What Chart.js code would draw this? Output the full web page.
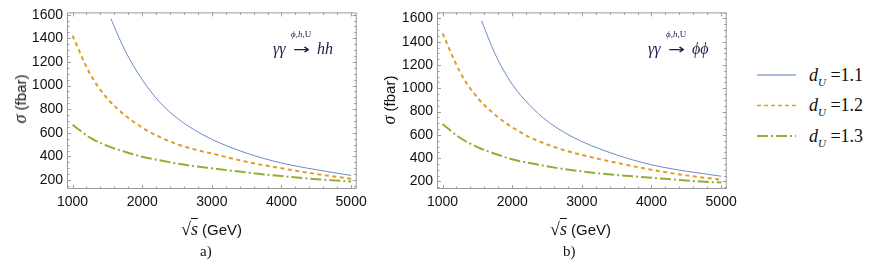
<!DOCTYPE html>
<html>
<head>
<meta charset="utf-8">
<script src="https://cdn.jsdelivr.net/npm/chart.js@4.4.1/dist/chart.umd.min.js"></script>
<style>
  body { margin: 0; background: #fff; width: 882px; height: 264px; overflow: hidden; position: relative; }
  canvas { position: absolute; top: 0; }
  .t { position: absolute; white-space: nowrap; color: #111; line-height: 1; }
  .serif { font-family: "Liberation Serif", "DejaVu Serif", serif; }
  .sans { font-family: "Liberation Sans", Arial, sans-serif; }
  .ytitle { transform: translate(-50%, -50%) rotate(-90deg); }
  .ov { text-decoration: overline; }
  .arrow { font-family: "DejaVu Sans", sans-serif; font-size: 14px; transform: scaleX(1.45); transform-origin: left center; color: #1c1c48; }
</style>
</head>
<body>
<canvas id="chartA" width="372" height="264" style="left:0"></canvas>
<canvas id="chartB" width="372" height="264" style="left:370px"></canvas>

<!-- y titles -->
<div class="t ytitle" style="left:20px;top:99px"><span class="serif" style="font-size:18px;font-style:italic">σ</span><span class="sans" style="font-size:15px"> (fbar)</span></div>
<div class="t ytitle" style="left:389px;top:100px"><span class="serif" style="font-size:18px;font-style:italic">σ</span><span class="sans" style="font-size:15px"> (fbar)</span></div>

<!-- x titles -->
<div class="t" style="left:181px;top:220px"><span class="serif" style="font-size:18px">√</span><span class="serif ov" style="font-size:18px;font-style:italic">s</span><span class="sans" style="font-size:15px"> (GeV)</span></div>
<div class="t serif" style="left:200px;top:244px;font-size:15px">a)</div>
<div class="t" style="left:550px;top:220px"><span class="serif" style="font-size:18px">√</span><span class="serif ov" style="font-size:18px;font-style:italic">s</span><span class="sans" style="font-size:15px"> (GeV)</span></div>
<div class="t serif" style="left:563px;top:244px;font-size:15px">b)</div>

<!-- process labels -->
<div class="t serif" style="left:273px;top:41px;font-size:16px;font-style:italic;color:#1c1c48">γγ</div>
<div class="t arrow" style="left:293px;top:42px">→</div>
<div class="t serif" style="left:317px;top:41px;font-size:16px;font-style:italic;color:#1c1c48">hh</div>
<div class="t serif" style="left:291px;top:30px;font-size:9px;color:#1c1c48"><i>ϕ</i>,<i>h</i>,U</div>

<div class="t serif" style="left:648px;top:41px;font-size:16px;font-style:italic;color:#1c1c48">γγ</div>
<div class="t arrow" style="left:668px;top:42px">→</div>
<div class="t serif" style="left:692px;top:41px;font-size:16px;font-style:italic;color:#1c1c48">ϕϕ</div>
<div class="t serif" style="left:666px;top:30px;font-size:9px;color:#1c1c48"><i>ϕ</i>,<i>h</i>,U</div>

<!-- legend -->
<svg style="position:absolute;left:750px;top:60px" width="60" height="90">
  <line x1="7" y1="15" x2="46" y2="15" stroke="#a9bcdc" stroke-width="2"/>
  <line x1="7" y1="45.5" x2="46" y2="45.5" stroke="#E19C24" stroke-width="1.5" stroke-dasharray="4,3"/>
  <line x1="7" y1="76" x2="46" y2="76" stroke="#8FB032" stroke-width="2" stroke-dasharray="11,3,2,3"/>
</svg>
<div class="t serif" style="left:809px;top:66px;font-size:18px"><i>d</i><sub style="font-size:11px"><i>U</i></sub> =1.1</div>
<div class="t serif" style="left:809px;top:96px;font-size:18px"><i>d</i><sub style="font-size:11px"><i>U</i></sub> =1.2</div>
<div class="t serif" style="left:809px;top:127px;font-size:18px"><i>d</i><sub style="font-size:11px"><i>U</i></sub> =1.3</div>

<script>
// sqrt(s) in GeV
const sqrtS = [1000, 1250, 1500, 1750, 2000, 2250, 2500, 2750, 3000, 3500, 4000, 4500, 5000];
const sqrtSBlueA = [1550, 1750, 2000, 2250, 2500, 2750, 3000, 3500, 4000, 4500, 5000];
const sqrtSBlueB = [1560, 1750, 2000, 2250, 2500, 2750, 3000, 3500, 4000, 4500, 5000];

// a) gamma gamma -> hh, sigma in fbar
const hhDu11 = [1565, 1300, 1050, 860, 725, 625, 545, 428, 345, 288, 240];
const hhDu12 = [1422, 1100, 890, 750, 645, 565, 505, 460, 425, 355, 300, 252, 212];
const hhDu13 = [667, 560, 490, 440, 398, 368, 340, 318, 300, 265, 234, 208, 188];

// b) gamma gamma -> phi phi
const ffDu11 = [1580, 1300, 1035, 855, 720, 620, 543, 428, 343, 288, 245];
const ffDu12 = [1471, 1140, 920, 775, 665, 580, 518, 468, 428, 360, 300, 252, 215];
const ffDu13 = [693, 575, 495, 438, 390, 358, 330, 305, 286, 255, 232, 208, 190];

const xTicks = [1000, 2000, 3000, 4000, 5000];
const yTicks = [200, 400, 600, 800, 1000, 1200, 1400, 1600];

const pts = (xs, ys) => xs.map((x, i) => ({ x: x, y: ys[i] }));

// Mathematica style frame with inward ticks
const frameTicks = {
    id: 'frameTicks',
    afterDraw(chart) {
        const { ctx, chartArea: a, scales } = chart;
        const x = scales.x, y = scales.y;
        ctx.save();
        ctx.strokeStyle = '#9c9c9c';
        ctx.lineWidth = 1;
        ctx.strokeRect(a.left + 0.5, a.top + 0.5, a.right - a.left - 1, a.bottom - a.top - 1);
        ctx.beginPath();
        for (let v = 1000; v <= 5000; v += 200) {
            const px = Math.round(x.getPixelForValue(v)) + 0.5;
            const len = v % 1000 === 0 ? 4 : 2.5;
            ctx.moveTo(px, a.bottom); ctx.lineTo(px, a.bottom - len);
            ctx.moveTo(px, a.top); ctx.lineTo(px, a.top + len);
        }
        for (let v = 150; v <= y.max; v += 50) {
            if (v < y.min) continue;
            const py = Math.round(y.getPixelForValue(v)) + 0.5;
            const len = v % 200 === 0 ? 4 : 2.5;
            ctx.moveTo(a.left, py); ctx.lineTo(a.left + len, py);
            ctx.moveTo(a.right, py); ctx.lineTo(a.right - len, py);
        }
        ctx.stroke();
        ctx.restore();
    }
};

function makeChart(id, blueX, d11, d12, d13, yMin, yMax) {
    return new Chart(document.getElementById(id), {
        type: 'line',
        data: {
            datasets: [
                { data: pts(blueX, d11), borderColor: '#6a8bc2', borderWidth: 1 },
                { data: pts(sqrtS, d12), borderColor: '#E19C24', borderWidth: 2, borderDash: [4, 3.5] },
                { data: pts(sqrtS, d13), borderColor: '#8FB032', borderWidth: 2, borderDash: [11, 3, 2, 3] }
            ]
        },
        options: {
            responsive: false,
            animation: false,
            devicePixelRatio: 1,
            layout: { padding: { top: 12, right: 15, left: 0, bottom: 0 } },
            elements: { point: { radius: 0 }, line: { cubicInterpolationMode: 'monotone', fill: false } },
            plugins: { legend: { display: false }, tooltip: { enabled: false } },
            scales: {
                x: {
                    type: 'linear', min: 920, max: 5080,
                    grid: { display: false, drawTicks: false },
                    border: { display: false },
                    afterBuildTicks: s => { s.ticks = xTicks.map(v => ({ value: v })); },
                    afterFit: s => { s.height = 75; },
                    ticks: { padding: 5, maxRotation: 0, color: '#111', font: { family: 'Liberation Sans', size: 14 }, callback: v => String(v) }
                },
                y: {
                    type: 'linear', min: yMin, max: yMax,
                    grid: { display: false, drawTicks: false },
                    border: { display: false },
                    afterBuildTicks: s => { s.ticks = yTicks.map(v => ({ value: v })); },
                    afterFit: s => { s.width = 67; },
                    ticks: { padding: 4, color: '#111', font: { family: 'Liberation Sans', size: 14 }, callback: v => String(v) }
                }
            }
        },
        plugins: [frameTicks]
    });
}

makeChart('chartA', sqrtSBlueA, hhDu11, hhDu12, hhDu13, 125, 1619);
makeChart('chartB', sqrtSBlueB, ffDu11, ffDu12, ffDu13, 135, 1652);
</script>
</body>
</html>
